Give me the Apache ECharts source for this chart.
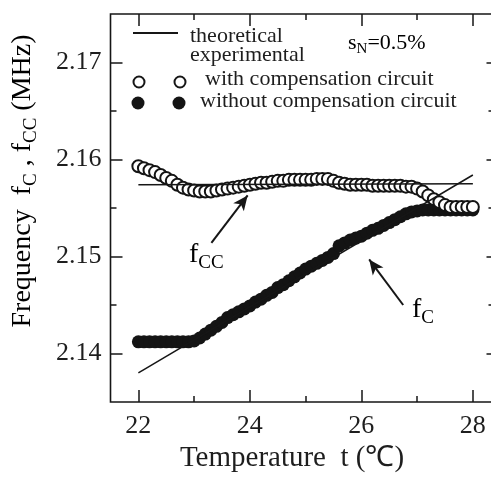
<!DOCTYPE html>
<html><head><meta charset="utf-8">
<script src="https://cdn.jsdelivr.net/npm/echarts@6/dist/echarts.min.js"></script>
<style>html,body{margin:0;padding:0;background:#fff}#c{width:491px;height:478px}</style>
</head><body><div id="c"></div>
<script>
// ---- data ----
const temps = [22.0,22.1,22.2,22.3,22.4,22.5,22.6,22.7,22.8,22.9,
  23.0,23.1,23.2,23.3,23.4,23.5,23.6,23.7,23.8,23.9,
  24.0,24.1,24.2,24.3,24.4,24.5,24.6,24.7,24.8,24.9,
  25.0,25.1,25.2,25.3,25.4,25.5,25.6,25.7,25.8,25.9,
  26.0,26.1,26.2,26.3,26.4,26.5,26.6,26.7,26.8,26.9,
  27.0,27.1,27.2,27.3,27.4,27.5,27.6,27.7,27.8,27.9,28.0];
// without compensation circuit (f_C, experimental)
const fcExp = [2.1412,2.1412,2.1412,2.1412,2.1412,2.1412,2.1412,2.1412,2.1412,2.1412,
  2.1413,2.1416,2.1420,2.1424,2.1428,2.1432,2.1437,2.1440,2.1443,2.1446,
  2.1449,2.1453,2.1456,2.1460,2.1463,2.1468,2.1471,2.1475,2.1479,2.1483,
  2.1487,2.1490,2.1493,2.1496,2.1499,2.1503,2.1511,2.1514,2.1517,2.1519,
  2.1521,2.1524,2.1527,2.1529,2.1532,2.1535,2.1538,2.1541,2.1544,2.1546,
  2.1547,2.1548,2.1548,2.1548,2.1548,2.1548,2.1548,2.1548,2.1548,2.1548,2.1548];
// with compensation circuit (f_CC, experimental)
const fccExp = [2.1593,2.1591,2.1589,2.1587,2.1584,2.1581,2.1578,2.1574,2.1571,2.1569,
  2.1568,2.1567,2.1567,2.1567,2.1568,2.1569,2.1570,2.1571,2.1572,2.1573,
  2.1574,2.1575,2.1576,2.1576,2.1577,2.1578,2.1578,2.1579,2.1579,2.1579,
  2.1579,2.1579,2.1580,2.1580,2.1580,2.1578,2.1576,2.1575,2.1574,2.1574,
  2.1574,2.1574,2.1573,2.1573,2.1573,2.1573,2.1573,2.1573,2.1572,2.1572,
  2.1570,2.1567,2.1563,2.1559,2.1556,2.1553,2.1551,2.1551,2.1551,2.1551,2.1551];
// theoretical lines
const theoryFcc = [[22, 2.1574], [28, 2.1575]];
const theoryFc = [[22, 2.1380], [28, 2.1584]];
// ticks
const xMajorTicks = [22, 24, 26, 28];
const xMinorTicks = [23, 25, 27];
const yMajorTicks = [2.14, 2.15, 2.16, 2.17];
const yMinorTicks = [2.145, 2.155, 2.165];
// annotation arrows (tail -> head, data coords)
const arrowFcc = [[23.31, 2.1514], [23.96, 2.1563]];
const arrowFc = [[26.75, 2.1450], [26.14, 2.1497]];

// ---- chart ----
const SERIF = "'Liberation Serif','Times New Roman',serif";
const INK = '#161616';
const X_MIN = 21.5, X_MAX = 28.424, Y_MIN = 2.135, Y_MAX = 2.175;

function xAx(pos, ticks, len, labels) {
  return {
    type: 'value', min: X_MIN, max: X_MAX, position: pos,
    axisLine: {show: false}, splitLine: {show: false},
    axisTick: {show: true, inside: true, length: len, customValues: ticks,
      lineStyle: {color: INK, width: 1.5}},
    axisLabel: labels ? {show: true, customValues: ticks, fontSize: 26, fontFamily: SERIF,
      color: '#1e1e1e', margin: 11} : {show: false}
  };
}
function yAx(pos, ticks, len, labels) {
  return {
    type: 'value', min: Y_MIN, max: Y_MAX, position: pos,
    axisLine: {show: false}, splitLine: {show: false},
    axisTick: {show: true, inside: true, length: len, customValues: ticks,
      lineStyle: {color: INK, width: 1.5}},
    axisLabel: labels ? {show: true, customValues: ticks, fontSize: 26, fontFamily: SERIF,
      color: '#1e1e1e', margin: 9, formatter: v => v.toFixed(2)} : {show: false}
  };
}

const chart = echarts.init(document.getElementById('c'), null, {renderer: 'canvas'});

const subRich = {
  m: {fontSize: 28, fontFamily: SERIF, lineHeight: 30, verticalAlign: 'top', color: '#1e1e1e'},
  s: {fontSize: 19, fontFamily: SERIF, lineHeight: 44, verticalAlign: 'middle', color: '#1e1e1e'}
};
const legRich = {
  m: {fontSize: 22, fontFamily: SERIF, lineHeight: 24, verticalAlign: 'top', color: '#1e1e1e'},
  s: {fontSize: 15, fontFamily: SERIF, lineHeight: 34, verticalAlign: 'middle', color: '#1e1e1e'}
};

chart.setOption({
  animation: false,
  backgroundColor: '#fff',
  grid: {left: 110.5, top: 14, width: 386, height: 388, show: true,
    outerBoundsMode: 'none', containLabel: false,
    borderColor: INK, borderWidth: 1.6, backgroundColor: 'transparent'},
  xAxis: [
    xAx('bottom', xMajorTicks, 12, true),
    xAx('bottom', xMinorTicks, 6, false),
    xAx('top', xMajorTicks, 12, false),
    xAx('top', xMinorTicks, 6, false)
  ],
  yAxis: [
    yAx('left', yMajorTicks, 12, true),
    yAx('left', yMinorTicks, 6, false),
    yAx('right', yMajorTicks, 10, false),
    yAx('right', yMinorTicks, 8, false)
  ],
  series: [
    {type: 'scatter', name: 'without compensation circuit', silent: true,
      data: temps.map((t, i) => [t, fcExp[i]]),
      symbol: 'circle', symbolSize: 13, itemStyle: {color: '#141414', opacity: 1}, z: 2},
    {type: 'scatter', name: 'with compensation circuit', silent: true,
      data: temps.map((t, i) => [t, fccExp[i]]),
      symbol: 'circle', symbolSize: 12,
      itemStyle: {color: '#fff', borderColor: '#141414', borderWidth: 2, opacity: 1}, z: 3},
    {type: 'line', name: 'theoretical fcc', silent: true, data: theoryFcc,
      showSymbol: false, symbol: 'none', lineStyle: {color: INK, width: 1.5}, z: 4},
    {type: 'line', name: 'theoretical fc', silent: true, data: theoryFc,
      showSymbol: false, symbol: 'none', lineStyle: {color: INK, width: 1.5}, z: 4,
      markLine: {
        silent: true, animation: false,
        symbol: ['none', 'arrow'], symbolSize: [10, 15],
        lineStyle: {type: 'solid', color: INK, width: 2},
        label: {show: false},
        data: [
          [{coord: arrowFcc[0]}, {coord: arrowFcc[1]}],
          [{coord: arrowFc[0]}, {coord: arrowFc[1]}]
        ]
      }}
  ],
  graphic: [
    // axis titles
    {type: 'text', x: 292, y: 458, style: {text: 'Temperature  t (\u2103)', fontSize: 29,
      fontFamily: SERIF, fill: '#1e1e1e', align: 'center', verticalAlign: 'middle'}},
    {type: 'text', x: 31, y: 181, rotation: Math.PI / 2,
      style: {text: '{m|Frequency  f}{s|C}{m| , f}{s|CC}{m| (MHz)}', rich: subRich,
        align: 'center', verticalAlign: 'middle'}},
    // legend
    {type: 'line', shape: {x1: 133, y1: 33, x2: 178, y2: 33}, style: {stroke: INK, lineWidth: 2}},
    {type: 'text', x: 190, y: 36, style: {text: 'theoretical', fontSize: 22, fontFamily: SERIF,
      fill: '#1e1e1e', align: 'left', verticalAlign: 'middle'}},
    {type: 'text', x: 190, y: 55, style: {text: 'experimental', fontSize: 22, fontFamily: SERIF,
      fill: '#1e1e1e', align: 'left', verticalAlign: 'middle'}},
    {type: 'text', x: 348, y: 49, style: {text: '{m|s}{s|N}{m|=0.5%}', rich: legRich,
      align: 'left', verticalAlign: 'middle'}},
    {type: 'circle', shape: {cx: 139, cy: 82, r: 5.5}, style: {fill: '#fff', stroke: INK, lineWidth: 2}},
    {type: 'circle', shape: {cx: 180, cy: 82, r: 5.5}, style: {fill: '#fff', stroke: INK, lineWidth: 2}},
    {type: 'text', x: 205, y: 79, style: {text: 'with compensation circuit', fontSize: 22, fontFamily: SERIF,
      fill: '#1e1e1e', align: 'left', verticalAlign: 'middle'}},
    {type: 'circle', shape: {cx: 138, cy: 103, r: 6.5}, style: {fill: '#141414'}},
    {type: 'circle', shape: {cx: 179, cy: 103, r: 6.5}, style: {fill: '#141414'}},
    {type: 'text', x: 200, y: 101, style: {text: 'without compensation circuit', fontSize: 22, fontFamily: SERIF,
      fill: '#1e1e1e', align: 'left', verticalAlign: 'middle'}},
    // curve labels
    {type: 'text', x: 189, y: 263, style: {text: '{m|f}{s|CC}', rich: subRich,
      align: 'left', verticalAlign: 'middle'}},
    {type: 'text', x: 412, y: 318, style: {text: '{m|f}{s|C}', rich: subRich,
      align: 'left', verticalAlign: 'middle'}}
  ]
});
</script>
</body></html>
